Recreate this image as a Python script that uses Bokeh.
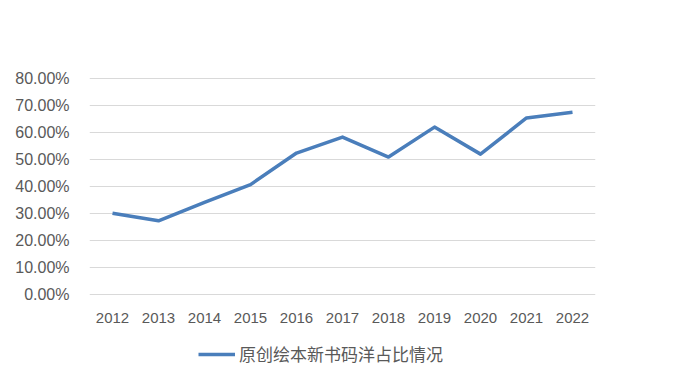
from bokeh.plotting import figure
from bokeh.models import FactorRange, Range1d, FixedTicker, PrintfTickFormatter, Legend, LegendItem
from bokeh.embed import file_html
from bokeh.resources import INLINE

years = ["2012", "2013", "2014", "2015", "2016", "2017", "2018", "2019", "2020", "2021", "2022"]
share = [30.1, 27.3, 34.1, 40.7, 52.4, 58.3, 50.9, 62.0, 52.0, 65.4, 67.5]
y_ticks = [0, 10, 20, 30, 40, 50, 60, 70, 80]
series_name = "原创绘本新书码洋占比情况"

p = figure(width=679, height=374, output_backend="svg", toolbar_location=None,
           x_range=FactorRange(*years, range_padding=0), y_range=Range1d(-29.6, 80.74),
           min_border_left=89, min_border_right=84, min_border_top=76, min_border_bottom=0)
p.outline_line_color = None
p.background_fill_color = "white"
p.border_fill_color = "white"

r = p.line(years, share, line_color="#4A7EBB", line_width=3.5, line_join="round")

p.yaxis.ticker = FixedTicker(ticks=y_ticks)
p.yaxis.formatter = PrintfTickFormatter(format="%.2f%%")
for ax in (p.xaxis[0], p.yaxis[0]):
    ax.axis_line_color = None
    ax.major_tick_line_color = None
    ax.minor_tick_line_color = None
    ax.major_label_text_color = "#595959"
    ax.major_label_text_font = "Liberation Sans"
    ax.major_label_text_font_size = "15px"
p.yaxis.major_label_text_font_size = "16px"
p.xaxis.fixed_location = 0
p.yaxis.major_label_standoff = 14
p.xaxis.major_label_standoff = 12
p.xgrid.grid_line_color = None
p.ygrid.grid_line_color = "#d9d9d9"
p.ygrid.grid_line_width = 1

legend = Legend(items=[LegendItem(label=series_name, renderers=[r])], location=(109, 8),
                orientation="horizontal", padding=0, margin=0, spacing=0,
                glyph_width=37, glyph_height=20, label_height=20, label_standoff=4,
                label_text_font="Noto Sans CJK SC", label_text_font_size="17px",
                label_text_color="#595959", border_line_color=None, background_fill_alpha=0)
p.add_layout(legend, "center")

open("out.html", "w").write(file_html(p, INLINE))
